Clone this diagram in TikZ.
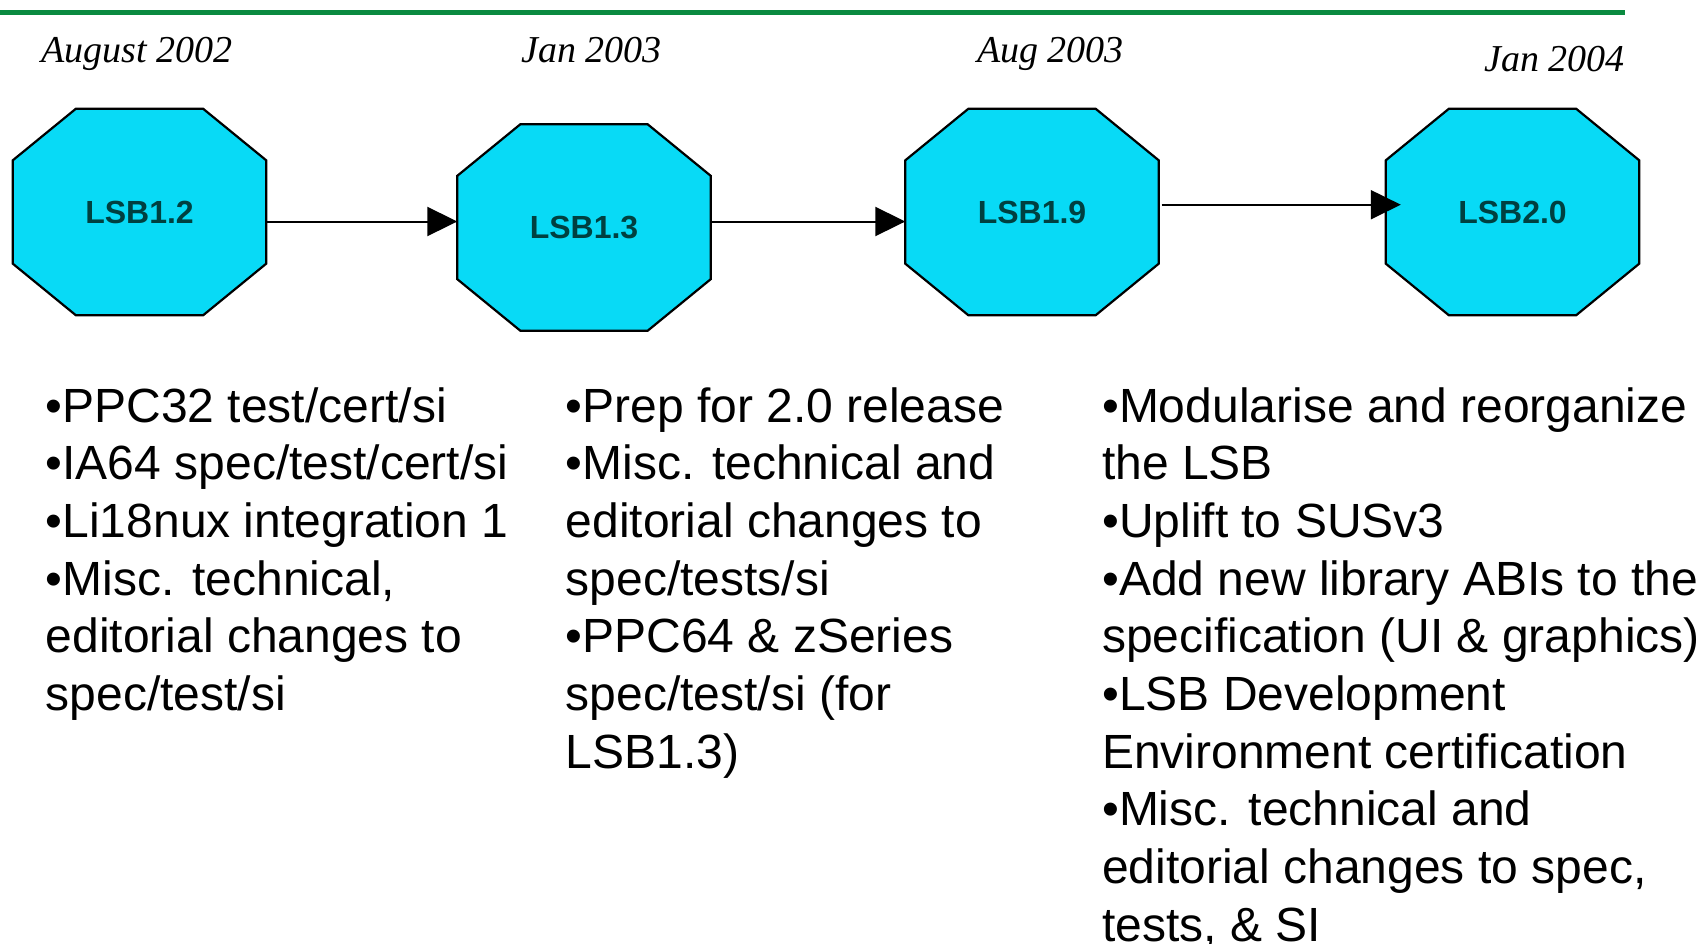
\documentclass[tikz,border=0pt]{standalone}
\usepackage{fontspec}
\setmainfont{Liberation Sans}
\newfontfamily\datefont{Liberation Serif}
\usetikzlibrary{arrows.meta,backgrounds}
\definecolor{octfill}{RGB}{8,218,246}
\definecolor{octtext}{RGB}{0,64,64}
\definecolor{rulegreen}{RGB}{10,138,64}
\newcommand\octdraw[1]{\draw[octline] ([xshift=63pt]#1.north west) -- ([xshift=-63pt]#1.north east) -- ([yshift=-51.5pt]#1.north east) -- ([yshift=51.5pt]#1.south east) -- ([xshift=-63pt]#1.south east) -- ([xshift=63pt]#1.south west) -- ([yshift=51.5pt]#1.south west) -- ([yshift=-51.5pt]#1.north west) -- cycle;}
\newcommand\bulletcol[1]{\begin{tabular}[t]{@{}l@{}}#1\end{tabular}}
\begin{document}
\begin{tikzpicture}[x=1pt,y=-1pt,
 oct/.style={minimum width=253pt,minimum height=206pt,inner sep=0pt,font=\fontsize{32}{38}\selectfont\bfseries,text=octtext},
 datelbl/.style={anchor=base west,inner sep=0pt,font=\datefont\itshape\fontsize{38}{45}\selectfont},
 bullets/.style={anchor=base west,inner sep=0pt,font=\fontsize{48}{57.7}\selectfont},
 conn/.style={line width=2pt,-{Triangle[length=30pt,width=29pt]}},
 octline/.style={draw=black,line width=2.2pt,fill=octfill,line join=miter}]
\useasboundingbox (0,0) rectangle (1702,943);
\draw[rulegreen,line width=5pt] (0,12.5) -- (1625,12.5);

\node[datelbl] (d1) at (41,62) {August 2002};
\node[datelbl] (d2) at (521,62) {Jan 2003};
\node[datelbl] (d3) at (977,62) {Aug 2003};
\node[datelbl] (d4) at (1484,71.7) {Jan 2004};

\node[oct] (o1) at (139.5,212) {LSB1.2};
\node[oct] (o2) at (584,227.5) {LSB1.3};
\node[oct] (o3) at (1032,212) {LSB1.9};
\node[oct] (o4) at (1512.5,212) {LSB2.0};
\begin{scope}[on background layer]
\octdraw{o1}
\octdraw{o2}
\octdraw{o3}
\octdraw{o4}
\end{scope}

\draw[conn] ([yshift=-9.5pt]o1.east) -- ([yshift=6pt]o2.west);
\draw[conn] ([yshift=6pt]o2.east) -- ([yshift=-9.5pt]o3.west);
\draw[conn] ([xshift=3pt,yshift=7.3pt]o3.east) -- ([xshift=15pt,yshift=7.3pt]o4.west);

\node[bullets] (c1) at (45.6,422) {\bulletcol{•PPC32 test/cert/si\\•IA64 spec/test/cert/si\\•Li18nux integration 1\\•Misc. technical,\\editorial changes to\\spec/test/si}};
\node[bullets] (c2) at (565.5,422) {\bulletcol{•Prep for 2.0 release\\•Misc. technical and\\editorial changes to\\spec/tests/si\\•PPC64 \& zSeries\\spec/test/si (for\\LSB1.3)}};
\node[bullets] (c3) at (1102,422) {\bulletcol{•Modularise and reorganize\\the LSB\\•Uplift to SUSv3\\•Add new library ABIs to the\\specification (UI \& graphics)\\•LSB Development\\Environment certification\\•Misc. technical and\\editorial changes to spec,\\tests, \& SI}};
\end{tikzpicture}
\end{document}
